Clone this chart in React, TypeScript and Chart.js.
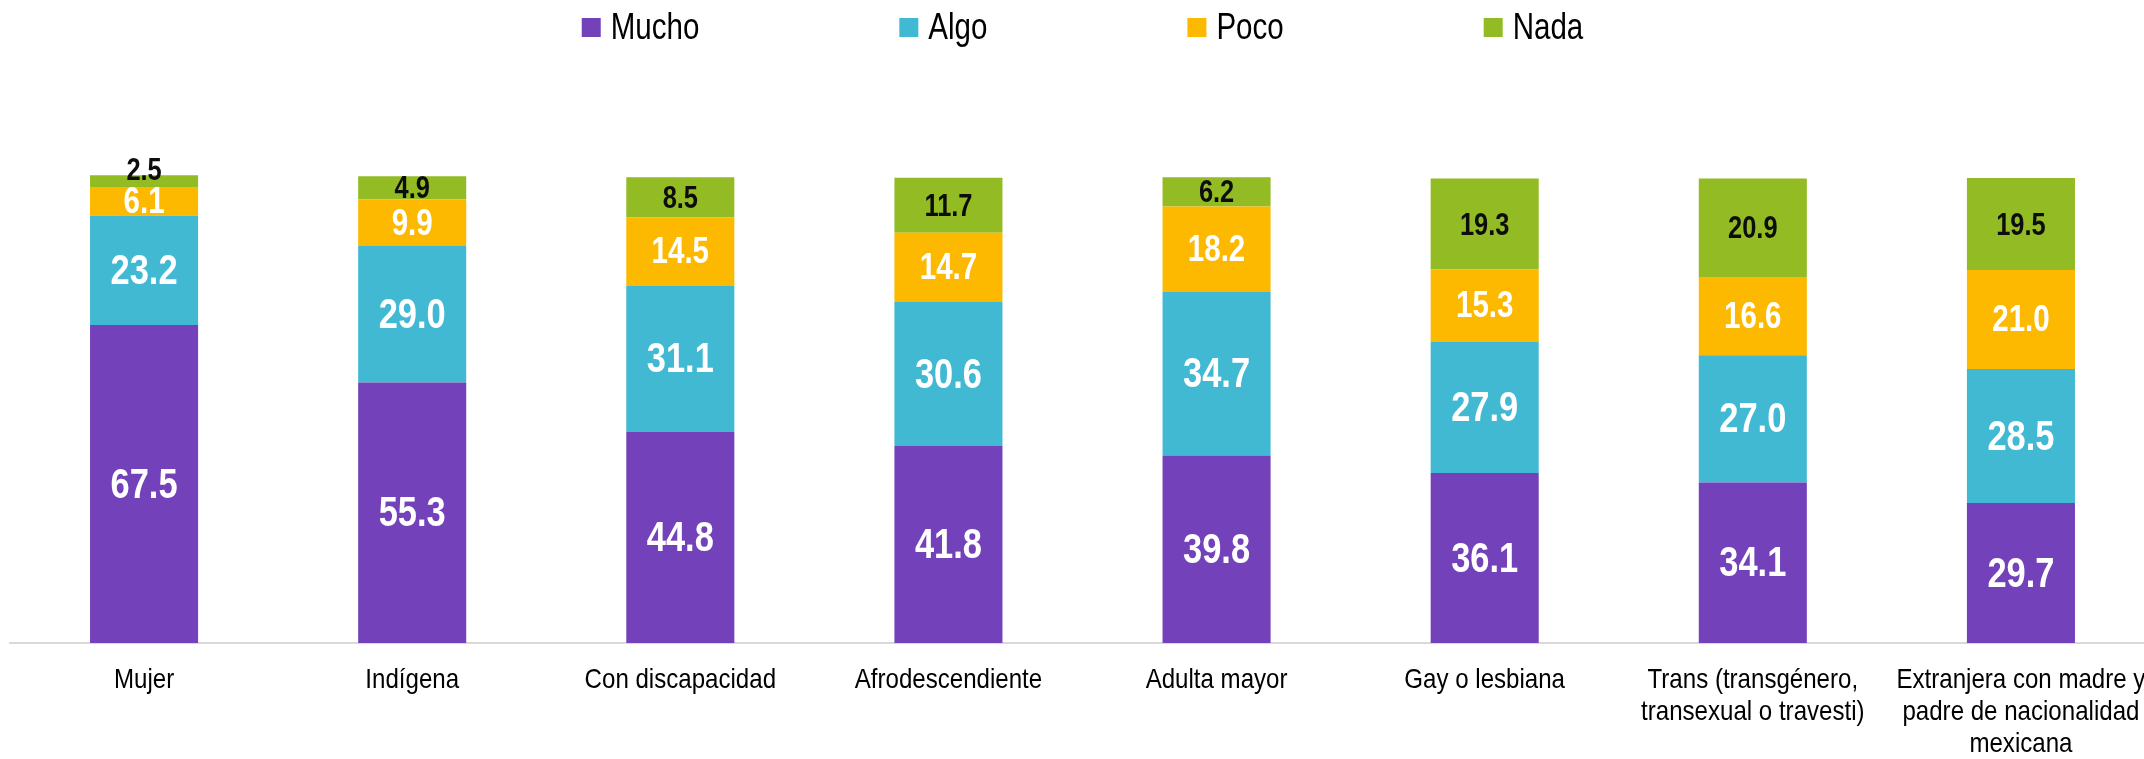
import React, { useEffect, useRef } from 'react';
import { Chart, registerables } from 'chart.js';

Chart.register(...registerables);

const FONT = "'Liberation Sans', Arial, sans-serif";
const NARROW = 0.82;
const NARROW_AXIS = 0.86;

const categories: (string | string[])[] = [
  'Mujer',
  'Indígena',
  'Con discapacidad',
  'Afrodescendiente',
  'Adulta mayor',
  'Gay o lesbiana',
  ['Trans (transgénero,', 'transexual o travesti)'],
  ['Extranjera con madre y', 'padre de nacionalidad', 'mexicana'],
];

const seriesNames = ['Mucho', 'Algo', 'Poco', 'Nada'];
const seriesColors = ['#7341B9', '#41B9D3', '#FCB900', '#93BB24'];

const mucho = [67.5, 55.3, 44.8, 41.8, 39.8, 36.1, 34.1, 29.7];
const algo = [23.2, 29.0, 31.1, 30.6, 34.7, 27.9, 27.0, 28.5];
const poco = [6.1, 9.9, 14.5, 14.7, 18.2, 15.3, 16.6, 21.0];
const nada = [2.5, 4.9, 8.5, 11.7, 6.2, 19.3, 20.9, 19.5];

const labelStyles = [
  { size: 42, color: '#FFFFFF' },
  { size: 42, color: '#FFFFFF' },
  { size: 36, color: '#FFFFFF' },
  { size: 31, color: '#0D0D0D' },
];

function narrowText(ctx: CanvasRenderingContext2D, text: string, x: number, y: number, k = NARROW) {
  ctx.save();
  ctx.translate(x, y);
  ctx.scale(k, 1);
  ctx.fillText(text, 0, 0);
  ctx.restore();
}

const valueLabels = {
  id: 'valueLabels',
  afterDatasetsDraw(chart: any) {
    const ctx = chart.ctx;
    chart.data.datasets.forEach((ds: any, di: number) => {
      const meta = chart.getDatasetMeta(di);
      const st = labelStyles[di];
      ctx.save();
      ctx.font = `bold ${st.size}px ${FONT}`;
      ctx.fillStyle = st.color;
      ctx.textAlign = 'center';
      ctx.textBaseline = 'middle';
      meta.data.forEach((el: any, i: number) => {
        const { x, y, base } = el.getProps(['x', 'y', 'base'], true);
        const top = Math.min(y, base);
        const h = Math.abs(base - y);
        let cy = top + h / 2 + 2;
        if (h < st.size * 0.5) cy = top - 4;
        narrowText(ctx, Number(ds.data[i]).toFixed(1), x, cy);
      });
      ctx.restore();
    });
  },
};

const xLabels = {
  id: 'xLabels',
  afterDraw(chart: any) {
    const ctx = chart.ctx;
    const scale = chart.scales.x;
    ctx.save();
    ctx.font = `28px ${FONT}`;
    ctx.fillStyle = '#000000';
    ctx.textAlign = 'center';
    ctx.textBaseline = 'alphabetic';
    const labels = chart.data.labels;
    labels.forEach((lab: any, i: number) => {
      const lines = Array.isArray(lab) ? lab : [lab];
      const x = scale.getPixelForTick(i);
      lines.forEach((line: string, k: number) => {
        narrowText(ctx, line, x, scale.top + 45 + k * 32, NARROW_AXIS);
      });
    });
    ctx.restore();
  },
};

const customLegend = {
  id: 'customLegend',
  afterDraw(chart: any) {
    const ctx = chart.ctx;
    ctx.save();
    ctx.font = `36px ${FONT}`;
    const items = chart.data.datasets.map((ds: any) => ({
      text: ds.label,
      color: ds.backgroundColor,
      w: ctx.measureText(ds.label).width * NARROW,
    }));
    const box = 19;
    const gapText = 10;
    const gapItem = 200;
    const total =
      items.reduce((s: number, it: any) => s + box + gapText + it.w, 0) + gapItem * (items.length - 1);
    let x = (chart.chartArea.left + chart.chartArea.right) / 2 - total / 2;
    items.forEach((it: any) => {
      ctx.fillStyle = it.color;
      ctx.fillRect(x, 18, box, box);
      ctx.fillStyle = '#000000';
      ctx.textAlign = 'left';
      ctx.textBaseline = 'alphabetic';
      narrowText(ctx, it.text, x + box + gapText, 39);
      x += box + gapText + it.w + gapItem;
    });
    ctx.restore();
  },
};

export default function App() {
  const canvasRef = useRef<HTMLCanvasElement | null>(null);

  useEffect(() => {
    if (!canvasRef.current) return;
    const series = [mucho, algo, poco, nada];
    const chart = new Chart(canvasRef.current, {
      type: 'bar',
      data: {
        labels: categories,
        datasets: series.map((d, i) => ({
          label: seriesNames[i],
          data: d,
          backgroundColor: seriesColors[i],
          borderWidth: 0,
          barPercentage: 0.403,
          categoryPercentage: 1,
        })),
      },
      options: {
        animation: false,
        responsive: true,
        maintainAspectRatio: false,
        layout: { padding: { left: 10, top: 172, right: 0, bottom: 0 } },
        plugins: {
          legend: { display: false },
          tooltip: { enabled: false },
        },
        scales: {
          x: {
            stacked: true,
            grid: { display: false, drawTicks: false },
            border: { display: true, color: '#D9D9D9', width: 2 },
            ticks: { display: false, autoSkip: false },
            afterFit(s: any) {
              s.height = 116;
              s.paddingLeft = 0;
              s.paddingRight = 0;
            },
          },
          y: { stacked: true, display: false, min: 0, max: 100 },
        },
      },
      plugins: [valueLabels, xLabels, customLegend],
    } as any);
    return () => chart.destroy();
  }, []);

  return (
    <div
      style={{
        position: 'fixed',
        left: 0,
        top: 0,
        width: 2144,
        height: 759,
        overflow: 'hidden',
        background: '#FFFFFF',
      }}
    >
      <div style={{ position: 'absolute', left: 0, top: 0, width: 2155, height: 759 }}>
        <canvas ref={canvasRef} />
      </div>
    </div>
  );
}
